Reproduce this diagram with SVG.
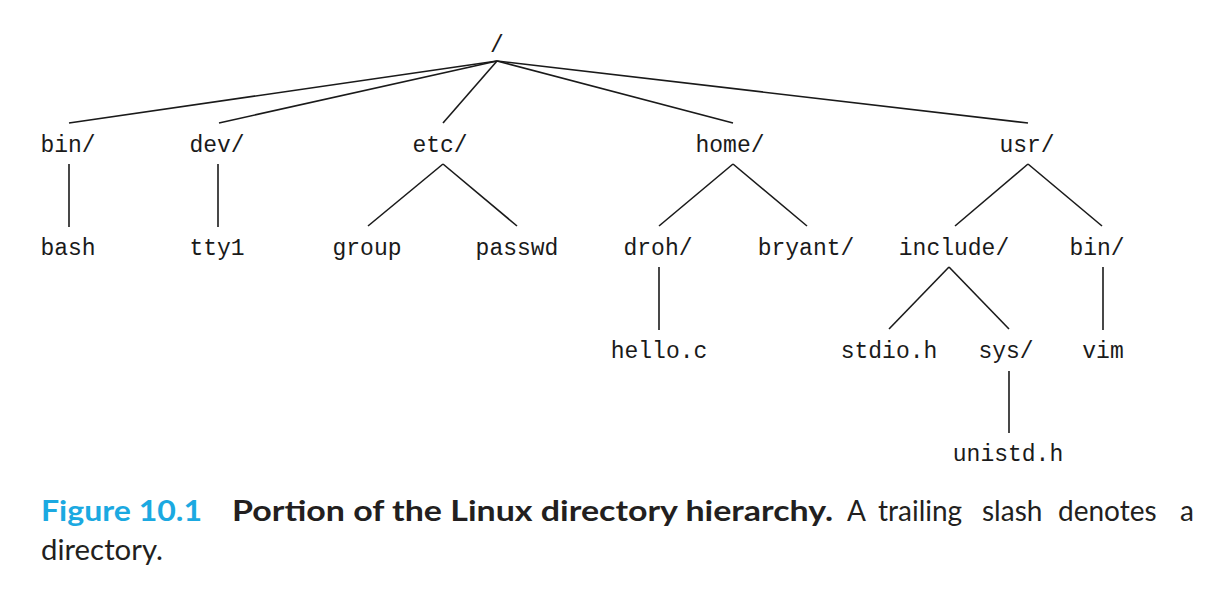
<svg xmlns="http://www.w3.org/2000/svg" width="1228" height="591" viewBox="0 0 1228 591">
<style>
.n{font-family:"Liberation Mono","DejaVu Sans Mono",monospace;font-size:23px;fill:#1a1a1a;text-anchor:middle}
.e line{stroke:#1a1a1a;stroke-width:1.6;stroke-linecap:butt}
.cap{font-family:Lato,"Noto Sans","Liberation Sans",sans-serif;font-size:28px;fill:#231f20}
.fig{fill:#1ba9e1;font-weight:bold}
.b{font-weight:bold}
</style>
<rect width="1228" height="591" fill="#ffffff"/>
<g id="connectors" class="e">
<line x1="497" y1="61" x2="69" y2="123"/>
<line x1="497" y1="61" x2="219" y2="123"/>
<line x1="497" y1="61" x2="443" y2="123"/>
<line x1="497" y1="61" x2="733" y2="123"/>
<line x1="497" y1="61" x2="1028" y2="123"/>
<line x1="69" y1="164" x2="69" y2="227"/>
<line x1="218" y1="164" x2="218" y2="227"/>
<line x1="443" y1="164" x2="368" y2="226"/>
<line x1="443" y1="164" x2="517" y2="226"/>
<line x1="733" y1="164" x2="659" y2="226"/>
<line x1="733" y1="164" x2="807" y2="226"/>
<line x1="1028" y1="164" x2="955" y2="226"/>
<line x1="1028" y1="164" x2="1102" y2="226"/>
<line x1="659" y1="267" x2="659" y2="330"/>
<line x1="949" y1="267" x2="889" y2="329"/>
<line x1="949" y1="267" x2="1009" y2="329"/>
<line x1="1103" y1="267" x2="1103" y2="330"/>
<line x1="1009" y1="371" x2="1009" y2="433"/>
</g>
<g id="root"><text class="n" x="497" y="52">/</text></g>
<g id="bin"><text class="n" x="68" y="152">bin/</text></g>
<g id="dev"><text class="n" x="217" y="152">dev/</text></g>
<g id="etc"><text class="n" x="440" y="152">etc/</text></g>
<g id="home"><text class="n" x="730" y="152">home/</text></g>
<g id="usr"><text class="n" x="1027" y="152">usr/</text></g>
<g id="bash"><text class="n" x="68" y="255">bash</text></g>
<g id="tty1"><text class="n" x="217" y="255">tty1</text></g>
<g id="group"><text class="n" x="367" y="255">group</text></g>
<g id="passwd"><text class="n" x="517" y="255">passwd</text></g>
<g id="droh"><text class="n" x="658" y="255">droh/</text></g>
<g id="bryant"><text class="n" x="806" y="255">bryant/</text></g>
<g id="include"><text class="n" x="954" y="255">include/</text></g>
<g id="usrbin"><text class="n" x="1097" y="255">bin/</text></g>
<g id="hello"><text class="n" x="659" y="358">hello.c</text></g>
<g id="stdio"><text class="n" x="889" y="358">stdio.h</text></g>
<g id="sys"><text class="n" x="1006" y="358">sys/</text></g>
<g id="vim"><text class="n" x="1103" y="358">vim</text></g>
<g id="unistd"><text class="n" x="1008" y="461">unistd.h</text></g>
<g id="caption">
<text class="cap fig" x="41" y="521" textLength="161" lengthAdjust="spacingAndGlyphs">Figure 10.1</text>
<text class="cap b" x="232" y="521" textLength="601" lengthAdjust="spacingAndGlyphs">Portion of the Linux directory hierarchy.</text>
<text class="cap" y="521"><tspan x="847">A</tspan><tspan x="878">trailing</tspan><tspan x="982">slash</tspan><tspan x="1058">denotes</tspan><tspan x="1180">a</tspan></text>
<text class="cap" x="41" y="560" textLength="122" lengthAdjust="spacingAndGlyphs">directory.</text>
</g>
</svg>
